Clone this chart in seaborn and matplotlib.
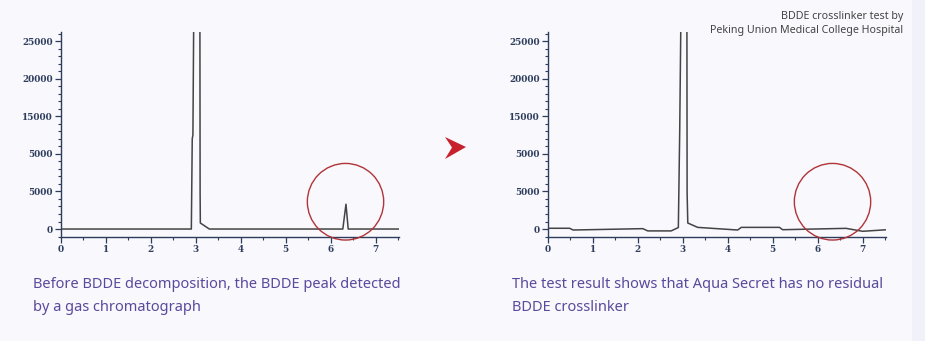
import matplotlib
matplotlib.use("Agg")
import matplotlib.pyplot as plt
import seaborn as sns
import pandas as pd
from matplotlib.patches import Ellipse, Polygon, Rectangle
from matplotlib.ticker import MultipleLocator, FixedLocator

# ---- data ----
before_time = [0, 2.90, 2.92, 2.935, 2.955, 3.09, 3.095, 3.10, 3.30, 6.27, 6.34, 6.39, 7.52]
before_signal = [0, 0, 12000, 12500, 30000, 30000, 4800, 800, 0, 0, 3300, 0, 0]

after_time = [0, 0.48, 0.56, 2.11, 2.22, 2.74, 2.90, 2.93, 2.96, 3.09, 3.095, 3.11, 3.33,
              4.22, 4.30, 5.15, 5.22, 6.63, 7.00, 7.52]
after_signal = [100, 100, -130, 50, -250, -250, 200, 12800, 30000, 30000, 4850, 800, 220,
                -130, 220, 220, -90, 90, -300, -100]

y_ticks = [0, 5000, 10000, 15000, 20000, 25000]
y_tick_labels = ["0", "5000", "5000", "15000", "20000", "25000"]
x_ticks = [0, 1, 2, 3, 4, 5, 6, 7]

caption_left = "Before BDDE decomposition, the BDDE peak detected\nby a gas chromatograph"
caption_right = "The test result shows that Aqua Secret has no residual\nBDDE crosslinker"
source_text = "BDDE crosslinker test by\nPeking Union Medical College Hospital"

highlight_center = (6.33, 3630)

# ---- styling ----
sns.set_style("ticks")
plt.rcParams['font.family'] = ['Noto Sans', 'DejaVu Sans']

BG = "#f8f8fd"
SPINE = "#2e3d5c"
LINE = "#444444"
CIRCLE = "#b03438"
CAPTION = "#5a4a9c"

W, H = 925, 341
fig = plt.figure(figsize=(W / 100, H / 100), dpi=100, facecolor=BG)
fig.patches.append(Rectangle((912 / W, 0), 1 - 912 / W, 1, transform=fig.transFigure,
                             facecolor="#f1f1f9", edgecolor="none", zorder=0))

def make_axes(left_px, times, signal):
    ax = fig.add_axes([left_px / W, (H - 237) / H, 338 / W, 205 / H])
    ax.set_facecolor("none")
    df = pd.DataFrame({"t": times, "s": signal})
    sns.lineplot(data=df, x="t", y="s", ax=ax, sort=False, estimator=None,
                 color=LINE, linewidth=1.1)
    ax.set_xlim(0, 7.52)
    ax.set_ylim(-1060, 26200)
    ax.set_xlabel("")
    ax.set_ylabel("")
    for s in ["top", "right"]:
        ax.spines[s].set_visible(False)
    for s in ["left", "bottom"]:
        ax.spines[s].set_color(SPINE)
        ax.spines[s].set_linewidth(1.0)
    ax.yaxis.set_major_locator(FixedLocator(y_ticks))
    ax.set_yticklabels(y_tick_labels)
    ax.yaxis.set_minor_locator(MultipleLocator(1000))
    ax.xaxis.set_major_locator(FixedLocator(x_ticks))
    ax.set_xticklabels([str(v) for v in x_ticks])
    ax.xaxis.set_minor_locator(MultipleLocator(0.5))
    ax.tick_params(axis="both", which="major", color=SPINE, width=0.9, length=4,
                   labelcolor=SPINE, labelsize=6.4, pad=2)
    ax.tick_params(axis="both", which="minor", color=SPINE, width=0.8, length=2.5)
    for lbl in ax.get_xticklabels() + ax.get_yticklabels():
        lbl.set_fontfamily("DejaVu Serif")
        lbl.set_fontweight("bold")
    ell = Ellipse(highlight_center, width=76.6 / 45.1, height=76.6 / 188 * 25000,
                  facecolor="none", edgecolor=CIRCLE, linewidth=1.0, zorder=5,
                  clip_on=False)
    ax.add_patch(ell)
    return ax

ax1 = make_axes(61, before_time, before_signal)
ax2 = make_axes(548, after_time, after_signal)

# arrow between panels
arrow_px = [(466, 147), (445, 137), (452, 147.5), (445, 159)]
fig.patches.append(Polygon([(x / W, 1 - y / H) for x, y in arrow_px], closed=True,
                           transform=fig.transFigure, facecolor="#c7212c",
                           edgecolor="none"))

# captions
fig.text(33 / W, 1 - 277 / H, caption_left, ha="left", va="top", color=CAPTION,
         fontsize=10.5, linespacing=1.72)
fig.text(512 / W, 1 - 277 / H, caption_right, ha="left", va="top", color=CAPTION,
         fontsize=10.5, linespacing=1.72)

# source note
fig.text(903 / W, 1 - 11 / H, source_text, ha="right", va="top", color="#444444",
         fontsize=7.7, linespacing=1.35)

fig.savefig("out.png", dpi=100, facecolor=BG)
